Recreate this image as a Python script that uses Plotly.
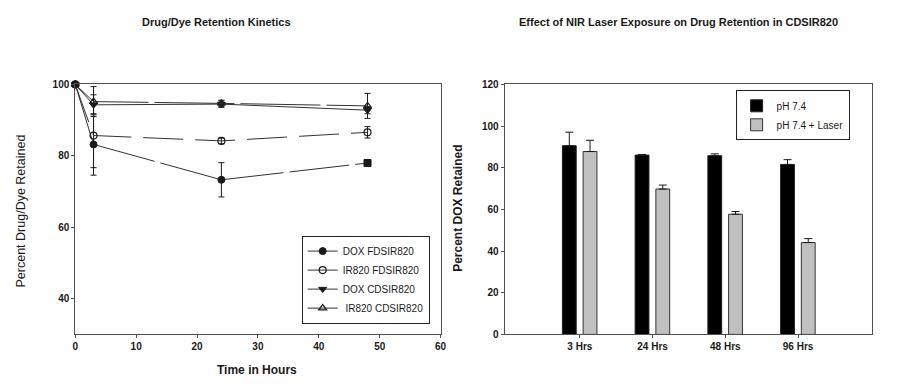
import plotly.graph_objects as go

# ---------------- Data: left chart (retention kinetics) ----------------
time_hours = [0, 3, 24, 48]
dox_fd = [100, 83.2, 73.3, 78.0]
dox_fd_err = [0, 8.6, 4.8, 0.8]
ir_fd = [100, 85.7, 84.2, 86.6]
ir_fd_err = [0, 9.0, 0.8, 1.6]
dox_cd = [100, 94.3, 94.5, 92.8]
dox_cd_err = [0, 2.8, 0.9, 1.0]
ir_cd = [100, 95.2, 94.7, 94.0]
ir_cd_err = [0, 4.2, 0.9, 3.5]
left_series_names = ["DOX FDSIR820", "IR820 FDSIR820", "DOX CDSIR820", " IR820 CDSIR820"]

# ---------------- Data: right chart (laser exposure) ----------------
bar_categories = ["3 Hrs", "24 Hrs", "48 Hrs", "96 Hrs"]
ph74 = [90.6, 86.1, 85.8, 81.6]
ph74_err = [6.5, 0.3, 0.9, 2.3]
ph74_laser = [87.8, 69.8, 57.7, 44.1]
ph74_laser_err = [5.4, 1.9, 1.3, 1.9]
bar_series_names = ["pH 7.4", "pH 7.4 + Laser"]

W, H = 901, 384
FONT = "Liberation Sans, Arial, sans-serif"
INK = "#1a1a1a"
AXIS = "#505050"

fig = go.Figure()

def err(arr):
    return dict(type="data", array=arr, visible=True, color=INK, thickness=1, width=3)

line_specs = [
    (dox_fd, dox_fd_err, left_series_names[0], dict(symbol=["circle", "circle", "circle", "square"], color=INK, size=7, line=dict(color=INK, width=1)), "60px,6px"),
    (ir_fd, ir_fd_err, left_series_names[1], dict(symbol="circle-open", color=INK, size=7, line=dict(color=INK, width=1.2)), "40px,12px"),
    (dox_cd, dox_cd_err, left_series_names[2], dict(symbol="triangle-down", color=INK, size=7, line=dict(color=INK, width=1)), "solid"),
    (ir_cd, ir_cd_err, left_series_names[3], dict(symbol="triangle-up-open", color=INK, size=7, line=dict(color=INK, width=1.2)), "80px,6px"),
]
for ys, es, name, mk, dash in line_specs:
    fig.add_trace(go.Scatter(
        x=time_hours, y=ys, name=name, mode="lines+markers",
        line=dict(color="#333333", width=1, dash=dash),
        marker=mk, error_y=err(es), xaxis="x", yaxis="y", legend="legend",
        cliponaxis=False,
    ))

# bars
bar_x = list(range(len(bar_categories)))
fig.add_trace(go.Bar(
    x=bar_x, y=ph74, name=bar_series_names[0], width=0.19, offset=-0.24,
    marker=dict(color="#000000", line=dict(color="#222222", width=1)),
    error_y=dict(type="data", symmetric=False, array=ph74_err, arrayminus=[0] * 4,
                 color=INK, thickness=1, width=4),
    xaxis="x2", yaxis="y2", legend="legend2",
))
fig.add_trace(go.Bar(
    x=bar_x, y=ph74_laser, name=bar_series_names[1], width=0.19, offset=0.045,
    marker=dict(color="#c0c0c0", line=dict(color="#333333", width=1)),
    error_y=dict(type="data", symmetric=False, array=ph74_laser_err, arrayminus=[0] * 4,
                 color=INK, thickness=1, width=4),
    xaxis="x2", yaxis="y2", legend="legend2",
))

tickfont = dict(family=FONT, size=10, color=INK)
common_axis = dict(showgrid=False, zeroline=False, showline=True, linecolor=AXIS,
                   linewidth=1, mirror=True, ticks="outside", ticklen=3,
                   tickcolor=AXIS, tickfont=tickfont)

fig.update_layout(
    width=W, height=H,
    margin=dict(l=0, r=0, t=0, b=0),
    paper_bgcolor="white", plot_bgcolor="white",
    font=dict(family=FONT, color=INK),
    barmode="overlay",
    xaxis=dict(domain=[73 / W, 442 / W], range=[0, 60], tickvals=[0, 10, 20, 30, 40, 50, 60],
               ticktext=["<b>0</b>", "<b>10</b>", "<b>20</b>", "<b>30</b>", "<b>40</b>", "<b>50</b>", "<b>60</b>"],
               anchor="y", **common_axis),
    yaxis=dict(domain=[1 - 339 / H, 1 - 81 / H], range=[30, 100], tickvals=[40, 60, 80, 100],
               ticktext=["<b>40</b>", "<b>60</b>", "<b>80</b>", "<b>100</b>"],
               anchor="x", **common_axis),
    xaxis2=dict(domain=[506.7 / W, 877.3 / W], range=[-1.034, 4.01], tickvals=bar_x,
                ticktext=["<b>%s</b>" % c for c in bar_categories],
                anchor="y2", **common_axis),
    yaxis2=dict(domain=[1 - 339 / H, 1 - 81 / H], range=[0, 120], tickvals=[0, 20, 40, 60, 80, 100, 120],
                ticktext=["<b>%d</b>" % v for v in [0, 20, 40, 60, 80, 100, 120]],
                anchor="x2", **common_axis),
    legend=dict(x=301.7 / W, y=1 - 237 / H, xanchor="left", yanchor="top",
                bordercolor="#222222", borderwidth=1, bgcolor="white",
                font=dict(family=FONT, size=10, color=INK), tracegroupgap=0,
                itemwidth=30),
    legend2=dict(x=740 / W, y=1 - 87 / H, xanchor="left", yanchor="top",
                 bordercolor="#222222", borderwidth=1, bgcolor="white",
                 font=dict(family=FONT, size=10, color=INK), tracegroupgap=0,
                 itemwidth=30),
    showlegend=True,
)

annos = [
    dict(text="<b>Drug/Dye Retention Kinetics</b>", x=215.5 / W, y=1 - 17 / H, size=11),
    dict(text="<b>Effect of NIR Laser Exposure on Drug Retention in CDSIR820</b>", x=682 / W, y=1 - 17 / H, size=11),
    dict(text="<b>Time in Hours</b>", x=257 / W, y=1 - 375.5 / H, size=12),
]
for a in annos:
    fig.add_annotation(text=a["text"], x=a["x"], y=a["y"], xref="paper", yref="paper",
                       xanchor="center", yanchor="middle", showarrow=False,
                       font=dict(family=FONT, size=a["size"], color=INK))
fig.add_annotation(text="Percent Drug/Dye Retained", x=18.3 / W, y=1 - 212 / H, xref="paper", yref="paper",
                   xanchor="center", yanchor="middle", showarrow=False, textangle=-90,
                   font=dict(family=FONT, size=12.5, color=INK))
fig.add_annotation(text="<b>Percent DOX Retained</b>", x=460 / W, y=1 - 209 / H, xref="paper", yref="paper",
                   xanchor="center", yanchor="middle", showarrow=False, textangle=-90,
                   font=dict(family=FONT, size=12, color=INK))

fig.write_html("out.html", config={"displayModeBar": False},
               post_script="document.body.style.margin='0';document.body.style.overflow='hidden';")
